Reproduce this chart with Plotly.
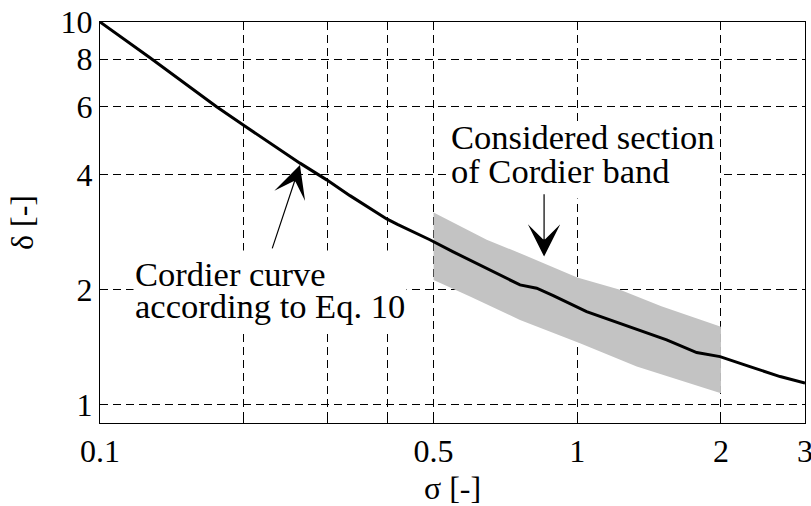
import numpy as np
import plotly.graph_objects as go

# Cordier curve (sigma, delta)
curve_sigma = [0.1, 0.1273, 0.1755, 0.1996, 0.2624, 0.2985, 0.334, 0.3988, 0.42, 0.491,
               0.5497, 0.6459, 0.7586, 0.8222, 0.8906, 1.046, 1.229, 1.31, 1.539, 1.779,
               1.991, 2.30, 2.66, 3.0]
curve_delta = [10.0, 8.07, 6.01, 5.38, 4.28, 3.87, 3.52, 3.06, 2.96, 2.70,
               2.51, 2.275, 2.058, 2.017, 1.93, 1.753, 1.634, 1.586, 1.478, 1.37,
               1.337, 1.259, 1.186, 1.14]

# Cordier band section
band_upper_sigma = [0.5, 0.646, 0.7586, 1.0, 1.229, 1.50, 2.0]
band_upper_delta = [3.18, 2.70, 2.49, 2.15, 2.00, 1.81, 1.60]
band_lower_sigma = [0.5, 0.596, 0.7586, 1.013, 1.332, 2.0]
band_lower_delta = [2.12, 1.918, 1.667, 1.449, 1.259, 1.073]

x_tickvals = [0.1, 0.2, 0.3, 0.4, 0.5, 1, 2, 3]
x_ticktext = ["0.1", "", "", "", "0.5", "1", "2", "3"]
y_tickvals = [1, 2, 4, 6, 8, 10]
y_ticktext = ["1", "2", "4", "6", "8", "10"]

FONT = "Liberation Serif, Times New Roman, Times, serif"

fig = go.Figure()

band_x = band_upper_sigma + band_lower_sigma[::-1]
band_y = band_upper_delta + band_lower_delta[::-1]
fig.add_trace(go.Scatter(x=band_x, y=band_y, fill="toself", mode="none",
                         fillcolor="#c3c3c3", hoverinfo="skip", showlegend=False))
fig.add_trace(go.Scatter(x=curve_sigma, y=curve_delta, mode="lines",
                         line=dict(color="black", width=3), showlegend=False))

axis_common = dict(
    type="log", showline=True, linecolor="black", linewidth=1, mirror=True,
    showgrid=True, gridcolor="black", gridwidth=1, griddash="8px,5px",
    ticks="inside", ticklen=5, tickcolor="black",
    tickfont=dict(family=FONT, size=32, color="black"),
    zeroline=False, ticklabeloverflow="allow", automargin=False,
)

fig.update_xaxes(**axis_common, range=[-1 - 1e-6, np.log10(3) + 1e-6],
                 tickvals=x_tickvals, ticktext=x_ticktext,
                 title=dict(text="σ [-]", font=dict(family=FONT, size=32, color="black"), standoff=11))
fig.update_yaxes(**axis_common, range=[np.log10(0.897), 1 + 1e-6],
                 tickvals=y_tickvals, ticktext=y_ticktext,
                 title=dict(text="δ [-]", font=dict(family=FONT, size=32, color="black"), standoff=17))

# white boxes behind the labels (drawn first, text drawn on top): left, top, width, height (px)
label_boxes = [
    (0.0468, 0.4314, 272, 80),
    (0.495, 0.7506, 269, 75),
]
for bx, by, bw, bh in label_boxes:
    fig.add_annotation(text=" ", xref="paper", yref="paper", x=bx, y=by,
                       xanchor="left", yanchor="top", showarrow=False,
                       width=bw, height=bh, bgcolor="white", borderpad=0,
                       font=dict(size=10))

ann_font = dict(family=FONT, size=34.5, color="black")
texts = [
    ("Cordier curve", 0.0468, 0.3716),
    ("according to Eq. 10", 0.0468, 0.2925),
    ("Considered section", 0.495, 0.7125),
    ("of Cordier band", 0.495, 0.629),
]
for t, px, py in texts:
    fig.add_annotation(text=t, xref="paper", yref="paper", x=px, y=py,
                       xanchor="left", yanchor="middle", showarrow=False,
                       font=ann_font, borderpad=1)

# arrows (log10 coordinates on log axes)
arrows = [
    (0.2624, 4.23, 0.229, 2.54),
    (0.852, 2.44, 0.852, 3.58),
]
for hx, hy, tx, ty in arrows:
    fig.add_annotation(text="", x=np.log10(hx), y=np.log10(hy), xref="x", yref="y",
                       ax=np.log10(tx), ay=np.log10(ty), axref="x", ayref="y",
                       showarrow=True, arrowhead=3, arrowsize=4.5, arrowwidth=1.2,
                       arrowcolor="black", standoff=0)

fig.update_layout(
    width=811, height=506,
    margin=dict(l=100, r=6, t=22, b=83),
    paper_bgcolor="white", plot_bgcolor="white",
    font=dict(family=FONT, color="black"),
)

fig.write_html("out.html")
